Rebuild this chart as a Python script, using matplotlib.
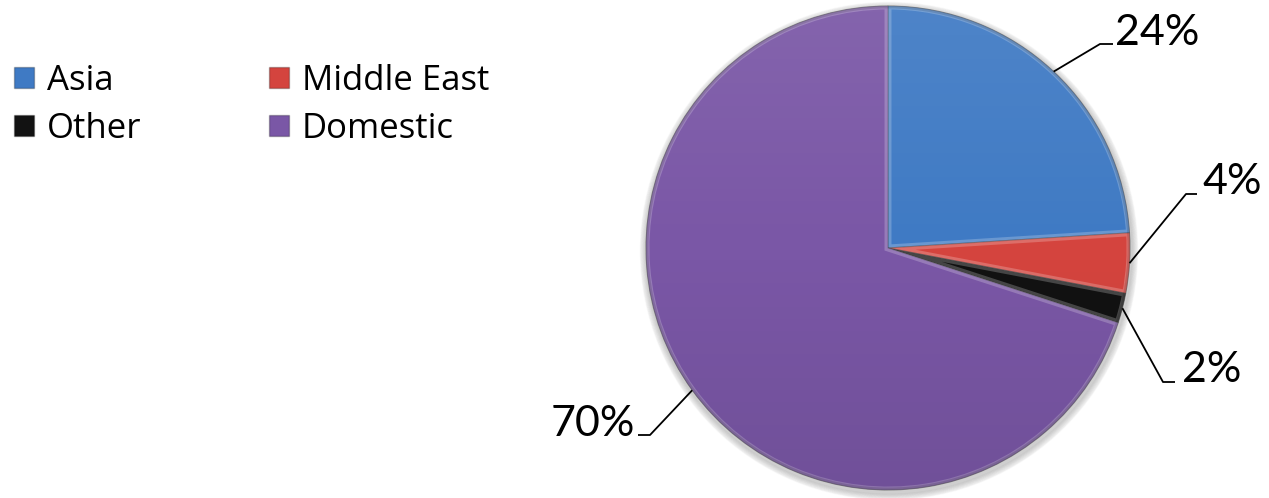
import numpy as np
import matplotlib.pyplot as plt
from matplotlib.patches import Patch, Circle, Wedge

regions = ['Asia', 'Middle East', 'Other', 'Domestic']
shares = [24, 4, 2, 70]
colors = ['#3F7AC4', '#D4443E', '#121212', '#7A57A6']

# label placement (pixel coords from top-left): text centre, elbow start
label_pos = [(1157, 33), (1232, 182), (1212, 370), (593, 424)]
elbow_pos = [(1100, 44), (1186, 194), (1163, 382), (650, 435)]
elbow_end = [(1113, 44), (1197, 194), (1175, 382), (638, 435)]

W, H = 1269, 498
plt.rcParams['font.family'] = ['Lato', 'DejaVu Sans']
fig = plt.figure(figsize=(W / 100, H / 100), dpi=100)
ax = fig.add_axes([0, 0, 1, 1])

cx, cy, r = 888, H - 248, 242

# soft shadow under the pie
for k in range(8):
    ax.add_patch(Circle((cx + 1, cy - 3), r + 1 + k * 0.8, color='black',
                        alpha=0.025, zorder=0))

wedges, _ = ax.pie(shares, colors=colors, startangle=90, counterclock=False,
                   center=(cx, cy), radius=r, frame=True,
                   wedgeprops=dict(edgecolor=(0, 0, 0, 0.3), linewidth=0.8))
ax.set_xlim(0, W)
ax.set_ylim(0, H)
ax.set_aspect('equal')
ax.axis('off')

# bevel: light inner rim on each slice
for w in wedges:
    rim = Wedge(w.center, w.r, w.theta1, w.theta2, fill=False, lw=5,
                edgecolor=(1, 1, 1, 0.22), zorder=2.5)
    ax.add_patch(rim)
    rim.set_clip_path(w)

# light-to-dark vertical shading over the whole pie
grad = np.linspace(1, 0, 256)
shade = np.zeros((256, 1, 4))
shade[:, 0, :3] = np.where(grad > 0.5, 1.0, 0.0)[:, None]
shade[:, 0, 3] = np.abs(grad - 0.5) * 0.16
im = ax.imshow(shade, extent=(cx - r, cx + r, cy - r, cy + r), origin='upper',
               aspect='auto', zorder=3, interpolation='bilinear')
im.set_clip_path(Circle((cx, cy), r, transform=ax.transData))
ax.set_xlim(0, W)
ax.set_ylim(0, H)

# darker outer edge
ax.add_patch(Circle((cx, cy), r - 1, fill=False, lw=2,
                    edgecolor=(0, 0, 0, 0.12), zorder=4))

for w, val, tp, e0, e1 in zip(wedges, shares, label_pos, elbow_pos, elbow_end):
    ang = np.deg2rad((w.theta1 + w.theta2) / 2)
    ex, ey = cx + r * np.cos(ang), cy + r * np.sin(ang)
    ax.plot([ex, e0[0], e1[0]], [ey, H - e0[1], H - e1[1]], color='black',
            lw=1.3, zorder=5, solid_capstyle='butt')
    ax.text(tp[0], H - tp[1], f'{val}%', fontsize=31, ha='center',
            va='center', zorder=6)

# legend fills row by row: Asia, Middle East / Other, Domestic
order = [0, 2, 1, 3]
handles = [Patch(facecolor=colors[i], edgecolor=(0, 0, 0, 0.25)) for i in order]
labels = [regions[i] for i in order]
ax.legend(handles, labels, loc='upper left', bbox_to_anchor=(0.011, 0.872),
          ncol=2, frameon=False, prop=dict(family='Open Sans', size=25),
          handlelength=0.58, handleheight=0.58, handletextpad=0.38,
          columnspacing=3.65, labelspacing=0.4, borderaxespad=0,
          borderpad=0)

fig.savefig('out.png', dpi=100)
